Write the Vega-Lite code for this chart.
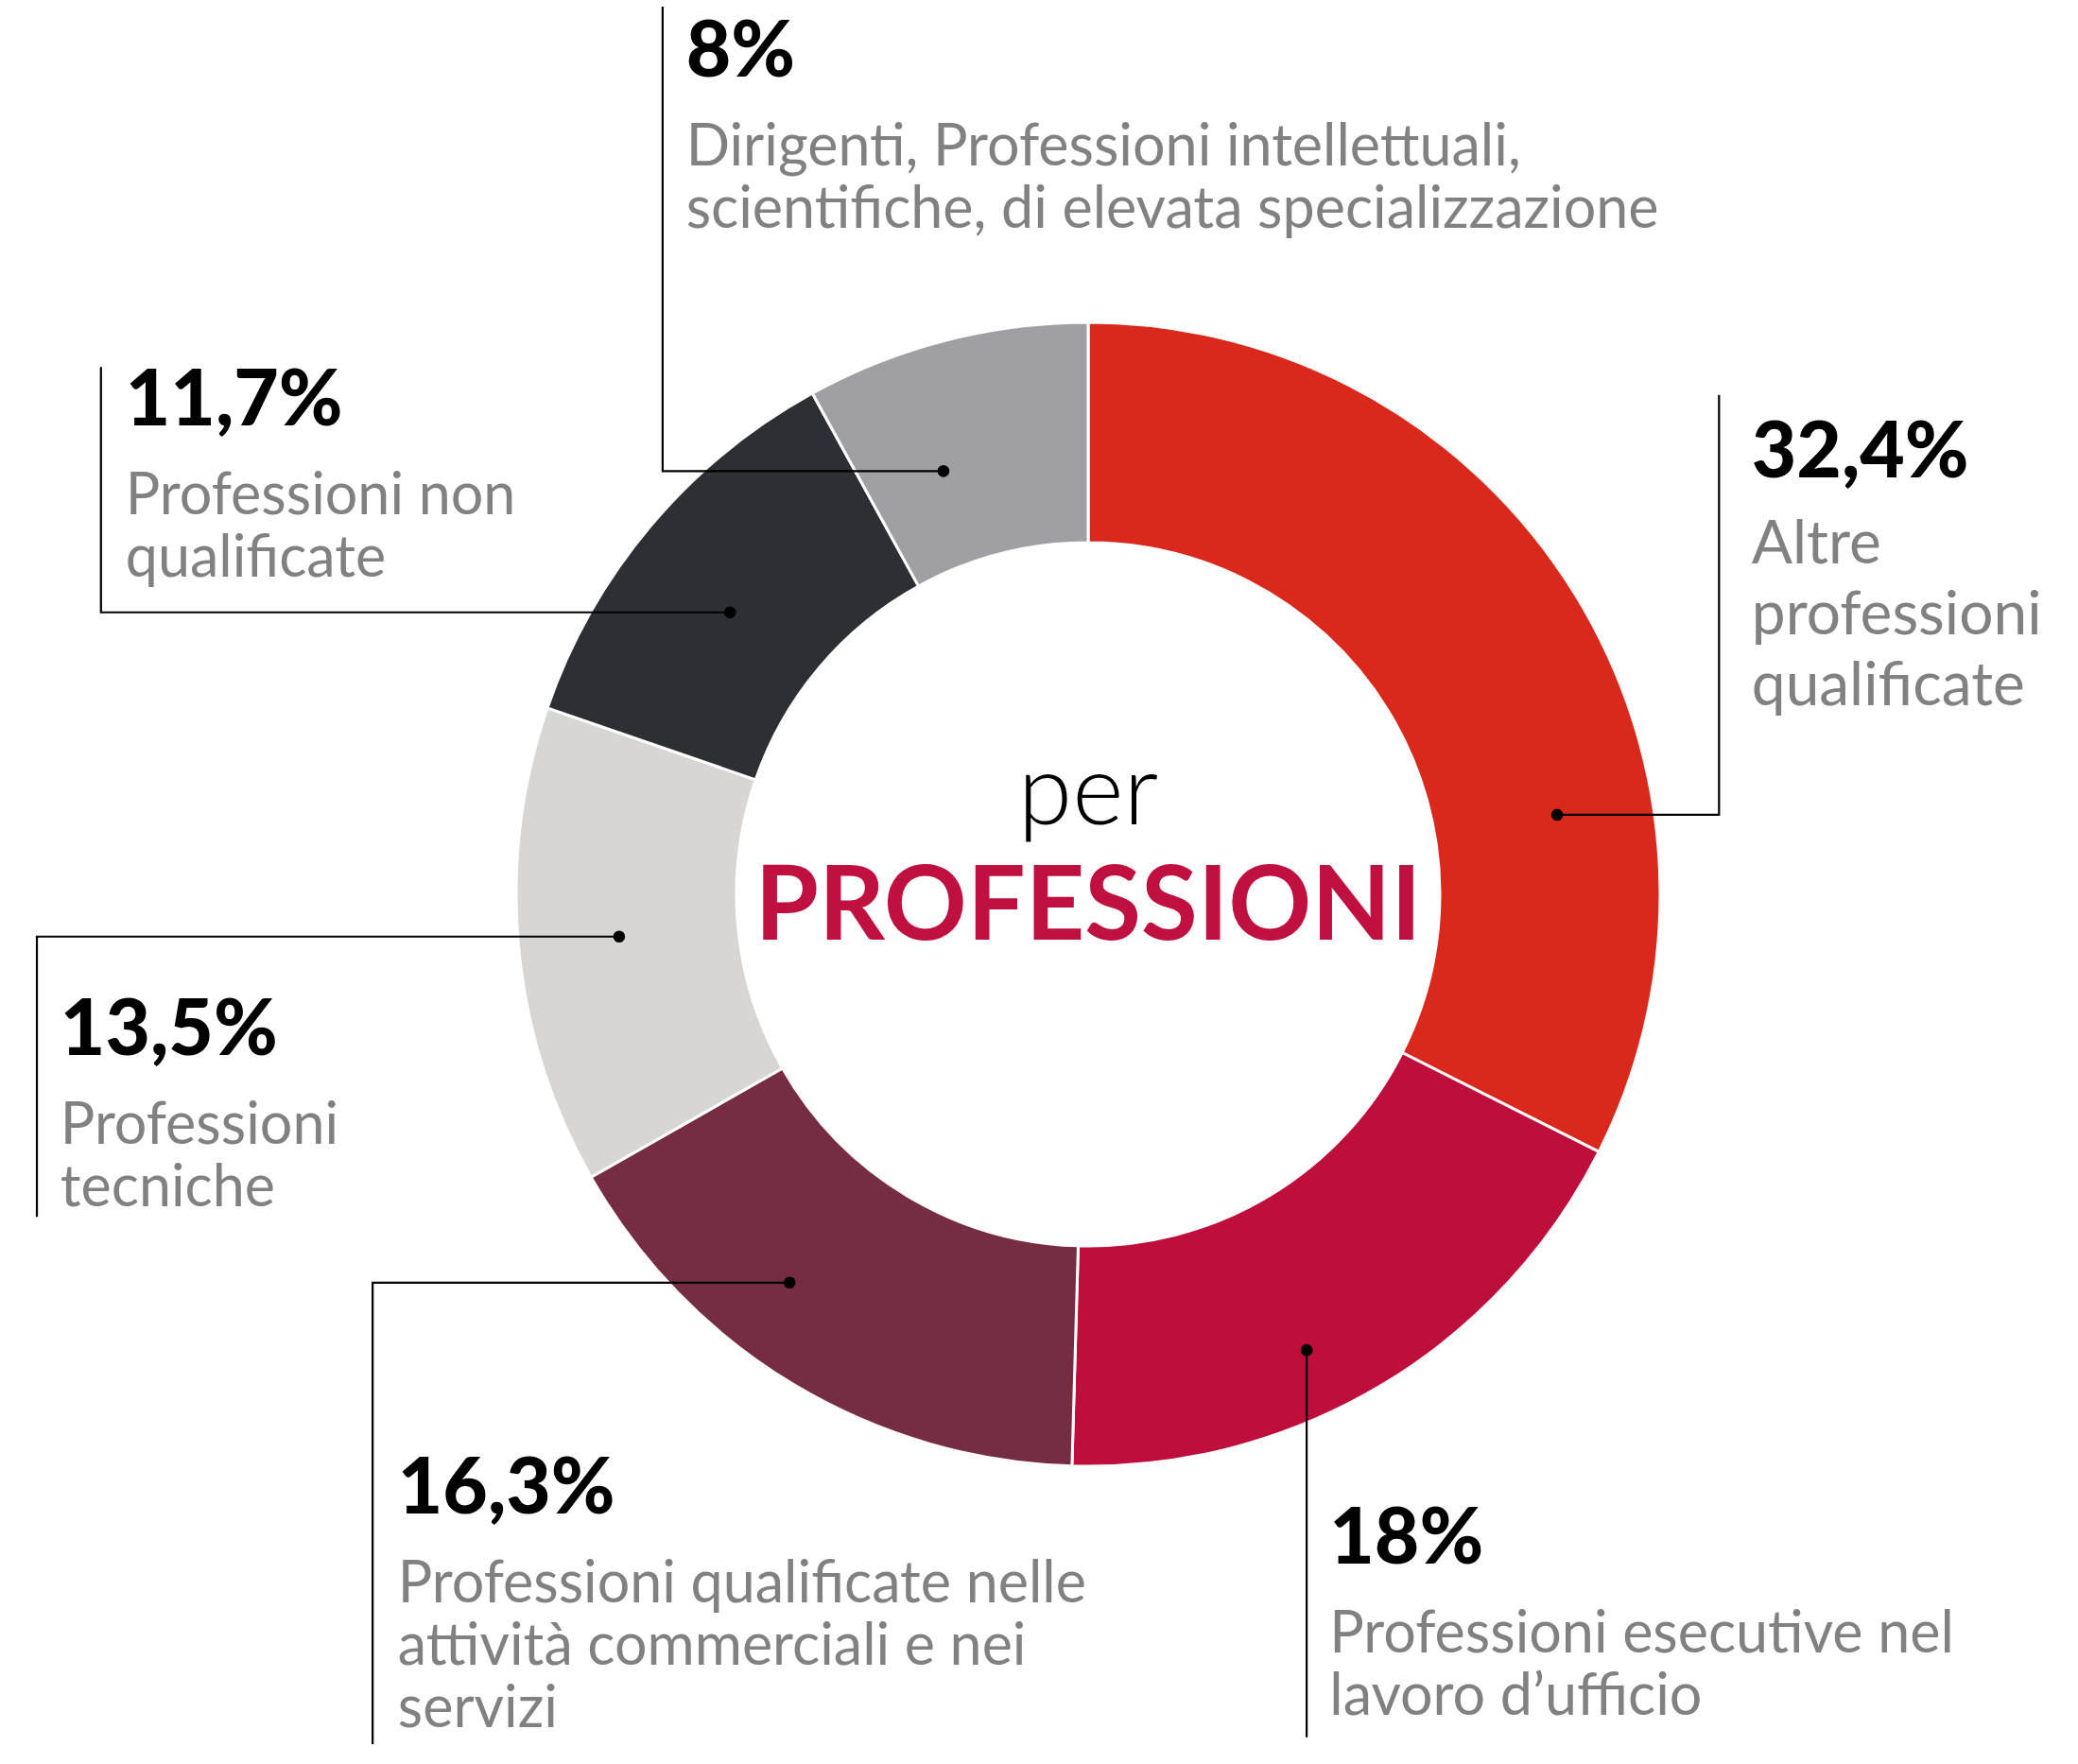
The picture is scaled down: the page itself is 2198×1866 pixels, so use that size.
{
  "$schema": "https://vega.github.io/schema/vega-lite/v6.json",
  "width": 2094,
  "height": 1840,
  "padding": {"left": 104, "top": 26, "right": 0, "bottom": 0},
  "autosize": {"type": "none"},
  "background": "white",
  "config": {"view": {"stroke": null}},
  "datasets": {
    "fette": [
      {"n": 1, "categoria": "Altre professioni qualificate", "valore": 32.4},
      {"n": 2, "categoria": "Professioni esecutive nel lavoro d’ufficio", "valore": 18},
      {"n": 3, "categoria": "Professioni qualificate nelle attività commerciali e nei servizi", "valore": 16.3},
      {"n": 4, "categoria": "Professioni tecniche", "valore": 13.5},
      {"n": 5, "categoria": "Professioni non qualificate", "valore": 11.7},
      {"n": 6, "categoria": "Dirigenti, Professioni intellettuali, scientifiche, di elevata specializzazione", "valore": 8}
    ],
    "etichette": [
      {"etichetta": "32,4%", "descrizione": "Altre\nprofessioni\nqualificate", "x": 116.0, "y": 72.9},
      {"etichetta": "18%", "descrizione": "Professioni esecutive nel\nlavoro d’ufficio", "x": 42.2, "y": -117.0},
      {"etichetta": "16,3%", "descrizione": "Professioni qualificate nelle\nattività commerciali e nei\nservizi", "x": -120.7, "y": -108.3},
      {"etichetta": "13,5%", "descrizione": "Professioni\ntecniche", "x": -179.7, "y": -28.1},
      {"etichetta": "11,7%", "descrizione": "Professioni non\nqualificate", "x": -168.3, "y": 82.0},
      {"etichetta": "8%", "descrizione": "Dirigenti, Professioni intellettuali,\nscientifiche, di elevata specializzazione", "x": -70.3, "y": 143.0}
    ],
    "linee": [
      {"id": "a", "ordine": 1, "x": 82.0, "y": 13.9},
      {"id": "a", "ordine": 2, "x": 110.3, "y": 13.9},
      {"id": "a", "ordine": 3, "x": 110.3, "y": 87.3},
      {"id": "b", "ordine": 1, "x": 38.2, "y": -79.7},
      {"id": "b", "ordine": 2, "x": 38.2, "y": -147.4},
      {"id": "c", "ordine": 1, "x": -52.2, "y": -67.9},
      {"id": "c", "ordine": 2, "x": -125.1, "y": -67.9},
      {"id": "c", "ordine": 3, "x": -125.1, "y": -148.6},
      {"id": "d", "ordine": 1, "x": -82.0, "y": -7.4},
      {"id": "d", "ordine": 2, "x": -183.8, "y": -7.4},
      {"id": "d", "ordine": 3, "x": -183.8, "y": -56.4},
      {"id": "e", "ordine": 1, "x": -62.6, "y": 49.3},
      {"id": "e", "ordine": 2, "x": -172.6, "y": 49.3},
      {"id": "e", "ordine": 3, "x": -172.6, "y": 92.2},
      {"id": "f", "ordine": 1, "x": -25.3, "y": 74.0},
      {"id": "f", "ordine": 2, "x": -74.4, "y": 74.0},
      {"id": "f", "ordine": 3, "x": -74.4, "y": 155.2}
    ],
    "centro": [
      {"testo": "per", "x": 0, "y": 12.2},
      {"testo": "PROFESSIONI", "x": 0, "y": -7.9}
    ]
  },
  "layer": [
    {
      "data": {"name": "fette"},
      "mark": {"type": "arc", "innerRadius": 372, "outerRadius": 605, "stroke": "white", "strokeWidth": 3},
      "encoding": {
        "theta": {"field": "valore", "type": "quantitative", "stack": true},
        "order": {"field": "n", "type": "quantitative"},
        "color": {
          "field": "categoria",
          "type": "nominal",
          "legend": null,
          "scale": {
            "domain": [
              "Altre professioni qualificate",
              "Professioni esecutive nel lavoro d’ufficio",
              "Professioni qualificate nelle attività commerciali e nei servizi",
              "Professioni tecniche",
              "Professioni non qualificate",
              "Dirigenti, Professioni intellettuali, scientifiche, di elevata specializzazione"
            ],
            "range": ["#DA291C", "#BE0E3C", "#772D41", "#D7D6D5", "#2E2F34", "#A09FA3"]
          }
        }
      }
    },
    {
      "data": {"name": "linee"},
      "mark": {"type": "line", "color": "black", "strokeWidth": 2.2},
      "encoding": {
        "x": {"field": "x", "type": "quantitative", "scale": {"domain": [-173.06, 173.06], "nice": false, "zero": false}, "axis": null},
        "y": {"field": "y", "type": "quantitative", "scale": {"domain": [-152.07, 152.07], "nice": false, "zero": false}, "axis": null},
        "detail": {"field": "id", "type": "nominal"},
        "order": {"field": "ordine", "type": "quantitative"}
      }
    },
    {
      "data": {"name": "linee"},
      "transform": [{"filter": "datum.ordine == 1"}],
      "mark": {"type": "circle", "color": "black", "opacity": 1, "size": 160},
      "encoding": {
        "x": {"field": "x", "type": "quantitative"},
        "y": {"field": "y", "type": "quantitative"}
      }
    },
    {
      "data": {"name": "etichette"},
      "mark": {"type": "text", "align": "left", "baseline": "alphabetic", "font": "Lato", "fontWeight": 900, "fontSize": 82, "color": "black"},
      "encoding": {
        "x": {"field": "x", "type": "quantitative"},
        "y": {"field": "y", "type": "quantitative"},
        "text": {"field": "etichetta"}
      }
    },
    {
      "data": {"name": "etichette"},
      "transform": [{"filter": "datum.etichetta != '32,4%'"}],
      "mark": {"type": "text", "align": "left", "baseline": "alphabetic", "font": "Lato", "fontSize": 61, "color": "#818181", "dy": 94, "lineBreak": "\n", "lineHeight": 66},
      "encoding": {
        "x": {"field": "x", "type": "quantitative"},
        "y": {"field": "y", "type": "quantitative"},
        "text": {"field": "descrizione"}
      }
    },
    {
      "data": {"name": "etichette"},
      "transform": [{"filter": "datum.etichetta == '32,4%'"}],
      "mark": {"type": "text", "align": "left", "baseline": "alphabetic", "font": "Lato", "fontSize": 64, "color": "#818181", "dy": 91, "lineBreak": "\n", "lineHeight": 75},
      "encoding": {
        "x": {"field": "x", "type": "quantitative"},
        "y": {"field": "y", "type": "quantitative"},
        "text": {"field": "descrizione"}
      }
    },
    {
      "data": {"name": "centro"},
      "transform": [{"filter": "datum.testo == 'per'"}],
      "mark": {"type": "text", "align": "center", "baseline": "alphabetic", "font": "Lato", "fontWeight": 300, "fontSize": 104, "color": "black"},
      "encoding": {
        "x": {"field": "x", "type": "quantitative"},
        "y": {"field": "y", "type": "quantitative"},
        "text": {"field": "testo"}
      }
    },
    {
      "data": {"name": "centro"},
      "transform": [{"filter": "datum.testo == 'PROFESSIONI'"}],
      "mark": {"type": "text", "align": "center", "baseline": "alphabetic", "font": "Lato", "fontWeight": "bold", "fontSize": 109, "color": "#C0103F"},
      "encoding": {
        "x": {"field": "x", "type": "quantitative"},
        "y": {"field": "y", "type": "quantitative"},
        "text": {"field": "testo"}
      }
    }
  ]
}
